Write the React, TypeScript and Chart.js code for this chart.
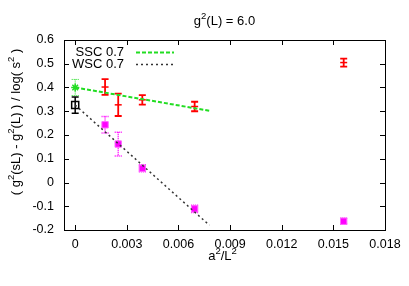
import React, { useEffect, useRef } from 'react';
import { Chart, registerables } from 'chart.js';

Chart.register(...registerables);

// ---- data ----
const latticeX = [0.001736, 0.0025, 0.0039, 0.00694, 0.0156];
const sscY = [0.402, 0.327, 0.348, 0.32, 0.505];
const sscErr = [0.033, 0.047, 0.02, 0.02, 0.017];
const wscY = [0.243, 0.162, 0.06, -0.111, -0.163];
const wscErr = [0.035, 0.05, 0.015, 0.015, 0.012];
const contX = [0];
const sscContY = [0.4];
const sscContErr = [0.034];
const wscContY = [0.326];
const wscContErr = [0.034];
const sscFitX = [0, 0.0078];
const sscFitY = [0.4, 0.302];
const wscFitX = [0, 0.0078];
const wscFitY = [0.326, -0.18];
const xTicks = [0, 0.003, 0.006, 0.009, 0.012, 0.015, 0.018];
const yTicks = [-0.2, -0.1, 0, 0.1, 0.2, 0.3, 0.4, 0.5, 0.6];
const legendLabels = ['SSC 0.7', 'WSC 0.7'];

const FONT = '"Liberation Sans", Arial, Helvetica, sans-serif';
const GREEN = '#22dd22';
const RED = '#ff0000';
const MAGENTA = '#ff00ff';

type Part = [string, boolean];

function drawRich(ctx: CanvasRenderingContext2D, parts: Part[], x: number, y: number) {
  const big = `13px ${FONT}`;
  const small = `9.5px ${FONT}`;
  let total = 0;
  for (const [t, sup] of parts) {
    ctx.font = sup ? small : big;
    total += ctx.measureText(t).width;
  }
  let cx = x - total / 2;
  ctx.textAlign = 'left';
  ctx.textBaseline = 'middle';
  for (const [t, sup] of parts) {
    ctx.font = sup ? small : big;
    ctx.fillText(t, cx, sup ? y - 5 : y);
    cx += ctx.measureText(t).width;
  }
}

const zip = (xs: number[], ys: number[]) => xs.map((x, i) => ({ x, y: ys[i] }));

const decorPlugin = {
  id: 'decor',
  beforeDatasetsDraw(chart: any) {
    const ctx = chart.ctx as CanvasRenderingContext2D;
    const ys = chart.scales.y;
    chart.data.datasets.forEach((ds: any, di: number) => {
      if (!ds.errors) return;
      const meta = chart.getDatasetMeta(di);
      ctx.save();
      ctx.strokeStyle = ds.errColor;
      ctx.lineWidth = ds.errWidth;
      ctx.setLineDash(ds.errDash || []);
      meta.data.forEach((el: any, i: number) => {
        const v = ds.data[i].y;
        const e = ds.errors[i];
        const px = el.x;
        const top = ys.getPixelForValue(v + e);
        const bot = ys.getPixelForValue(v - e);
        ctx.beginPath();
        ctx.moveTo(px, top);
        ctx.lineTo(px, bot);
        ctx.moveTo(px - 3.5, top);
        ctx.lineTo(px + 3.5, top);
        ctx.moveTo(px - 3.5, bot);
        ctx.lineTo(px + 3.5, bot);
        ctx.stroke();
      });
      ctx.restore();
    });
  },
  afterDraw(chart: any) {
    const ctx = chart.ctx as CanvasRenderingContext2D;
    const { left, right, top, bottom } = chart.chartArea;
    const xs = chart.scales.x;
    const ys = chart.scales.y;
    ctx.save();
    ctx.strokeStyle = '#000';
    ctx.lineWidth = 1;
    ctx.setLineDash([]);
    ctx.strokeRect(Math.round(left) + 0.5, Math.round(top) + 0.5, Math.round(right - left), Math.round(bottom - top));
    ctx.beginPath();
    const tl = 5;
    xs.ticks.forEach((t: any) => {
      const px = Math.round(xs.getPixelForValue(t.value)) + 0.5;
      ctx.moveTo(px, bottom);
      ctx.lineTo(px, bottom - tl);
      ctx.moveTo(px, top);
      ctx.lineTo(px, top + tl);
    });
    ys.ticks.forEach((t: any) => {
      const py = Math.round(ys.getPixelForValue(t.value)) + 0.5;
      ctx.moveTo(left, py);
      ctx.lineTo(left + tl, py);
      ctx.moveTo(right, py);
      ctx.lineTo(right - tl, py);
    });
    ctx.stroke();

    ctx.fillStyle = '#000';
    // title
    drawRich(ctx, [['g', false], ['2', true], ['(L) = 6.0', false]], (left + right) / 2, 21);
    // x title
    drawRich(ctx, [['a', false], ['2', true], ['/L', false], ['2', true]], (left + right) / 2 - 2, 256);
    // y title
    ctx.save();
    ctx.translate(16, 122);
    ctx.rotate(-Math.PI / 2);
    drawRich(
      ctx,
      [
        ['( g', false],
        ['2', true],
        ['(sL) - g', false],
        ['2', true],
        ['(L) ) / log( s', false],
        ['2', true],
        [' )', false],
      ],
      0,
      0
    );
    ctx.restore();

    // legend
    ctx.font = `13px ${FONT}`;
    ctx.textAlign = 'right';
    ctx.textBaseline = 'middle';
    const rows = [52, 64];
    ctx.fillText(legendLabels[0], left + 60, rows[0]);
    ctx.fillText(legendLabels[1], left + 60, rows[1]);
    ctx.lineWidth = 2;
    ctx.strokeStyle = GREEN;
    ctx.setLineDash([4, 2]);
    ctx.beginPath();
    ctx.moveTo(left + 72, rows[0] + 0.5);
    ctx.lineTo(left + 110, rows[0] + 0.5);
    ctx.stroke();
    ctx.strokeStyle = '#333';
    ctx.lineWidth = 1.5;
    ctx.setLineDash([2, 3]);
    ctx.beginPath();
    ctx.moveTo(left + 72, rows[1] + 0.5);
    ctx.lineTo(left + 110, rows[1] + 0.5);
    ctx.stroke();
    ctx.restore();
  },
};

export default function App() {
  const ref = useRef<HTMLCanvasElement | null>(null);
  useEffect(() => {
    if (!ref.current) return;
    const chart = new Chart(ref.current, {
      type: 'scatter',
      data: {
        datasets: [
          {
            label: 'SSC fit',
            data: zip(sscFitX, sscFitY),
            showLine: true,
            borderColor: GREEN,
            borderWidth: 2,
            borderDash: [4, 2],
            pointRadius: 0,
          },
          {
            label: 'WSC fit',
            data: zip(wscFitX, wscFitY),
            showLine: true,
            borderColor: '#333',
            borderWidth: 1.5,
            borderDash: [2, 3],
            pointRadius: 0,
          },
          {
            label: 'SSC',
            data: zip(latticeX, sscY),
            errors: sscErr,
            errColor: RED,
            errWidth: 1.8,
            pointStyle: 'line',
            pointRadius: 3.5,
            borderColor: RED,
            borderWidth: 1.5,
          },
          {
            label: 'SSC cont',
            data: zip(contX, sscContY),
            errors: sscContErr,
            errColor: GREEN,
            errWidth: 1,
            errDash: [1, 1],
            pointStyle: 'star',
            pointRadius: 4,
            borderColor: GREEN,
            borderWidth: 1.5,
          },
          {
            label: 'WSC',
            data: zip(latticeX, wscY),
            errors: wscErr,
            errColor: MAGENTA,
            errWidth: 1.5,
            errDash: [1, 1],
            pointStyle: 'rect',
            pointRadius: 4.5,
            backgroundColor: MAGENTA,
            borderColor: '#ff66ff',
            borderWidth: 1,
          },
          {
            label: 'WSC cont',
            data: zip(contX, wscContY),
            errors: wscContErr,
            errColor: '#000',
            errWidth: 1.5,
            pointStyle: 'rect',
            pointRadius: 5,
            backgroundColor: 'rgba(0,0,0,0)',
            borderColor: '#000',
            borderWidth: 1.5,
          },
        ] as any,
      },
      options: {
        animation: false,
        responsive: false,
        maintainAspectRatio: false,
        layout: { padding: { top: 40, right: 24, left: 0, bottom: 0 } },
        plugins: { legend: { display: false }, tooltip: { enabled: false }, title: { display: false } },
        scales: {
          x: {
            type: 'linear',
            min: -0.00065,
            max: 0.018,
            afterBuildTicks: (s: any) => {
              s.ticks = xTicks.map((v) => ({ value: v }));
            },
            afterFit: (s: any) => {
              s.height = 56;
            },
            grid: { display: false, drawTicks: false },
            border: { display: false },
            ticks: {
              padding: 7,
              maxRotation: 0,
              autoSkip: false,
              color: '#000',
              font: { family: FONT, size: 12.5 },
              callback: (v: any) => (v === 0 ? '0' : Number(v).toFixed(3)),
            },
          },
          y: {
            type: 'linear',
            min: -0.2,
            max: 0.6,
            afterBuildTicks: (s: any) => {
              s.ticks = yTicks.map((v) => ({ value: v }));
            },
            afterFit: (s: any) => {
              s.width = 64;
            },
            grid: { display: false, drawTicks: false },
            border: { display: false },
            ticks: {
              padding: 10,
              autoSkip: false,
              color: '#000',
              font: { family: FONT, size: 12.5 },
              callback: (v: any) => (Math.abs(v) < 1e-9 ? '0' : Number(v).toFixed(1)),
            },
          },
        },
      } as any,
      plugins: [decorPlugin],
    });
    return () => chart.destroy();
  }, []);
  return (
    <div style={{ position: 'fixed', left: 0, top: 0, width: 409, height: 286, background: '#fff' }}>
      <canvas ref={ref} width={409} height={286} />
    </div>
  );
}
